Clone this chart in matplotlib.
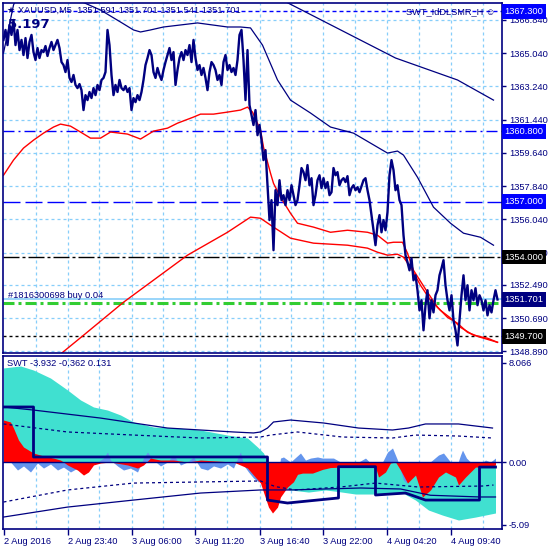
import matplotlib
matplotlib.use("Agg")
import matplotlib.pyplot as plt
import numpy as np
from matplotlib.transforms import blended_transform_factory

# ---------------- data ----------------
close = [
 1365.76, 1366.30, 1365.48, 1366.57, 1366.03, 1366.84, 1365.48, 1366.30, 1365.21, 1365.76,
 1364.94, 1365.86, 1364.78, 1365.65, 1366.03, 1365.10, 1364.67, 1365.32, 1364.78, 1365.21,
 1365.10, 1365.43, 1364.89, 1365.32, 1365.65, 1365.21, 1365.48, 1365.76, 1365.32, 1364.56,
 1364.40, 1364.02, 1364.67, 1363.70, 1363.48, 1363.86, 1363.32, 1363.15, 1363.37, 1363.04,
 1361.96, 1362.77, 1362.50, 1362.94, 1362.61, 1363.15, 1362.77, 1363.32, 1363.04, 1363.59,
 1363.70, 1364.02, 1366.30, 1365.48, 1363.86, 1362.77, 1363.32, 1362.94, 1363.59, 1363.15,
 1363.04, 1363.26, 1362.94, 1363.15, 1361.96, 1362.61, 1362.39, 1362.77, 1362.50, 1362.94,
 1363.59, 1364.40, 1364.78, 1365.21, 1364.94, 1364.02, 1363.70, 1364.24, 1363.86, 1363.59,
 1364.13, 1364.56, 1364.94, 1365.32, 1364.67, 1365.10, 1363.32, 1364.13, 1364.78, 1365.10,
 1364.67, 1365.21, 1364.94, 1365.48, 1364.56, 1365.76, 1364.78, 1364.13, 1364.40, 1363.86,
 1364.24, 1363.70, 1363.04, 1364.02, 1364.56, 1364.40, 1364.13, 1363.59, 1363.86, 1363.32,
 1364.56, 1364.94, 1364.13, 1364.40, 1364.02, 1364.24, 1363.86, 1364.67, 1366.03, 1366.30,
 1364.67, 1362.50, 1365.21, 1362.23, 1361.69, 1361.15, 1361.96, 1360.60, 1361.15, 1360.33,
 1359.25, 1359.79, 1357.89, 1356.00, 1357.08, 1354.37, 1357.62, 1356.81, 1358.16, 1357.08,
 1357.35, 1356.81, 1357.62, 1357.08, 1357.89, 1357.35, 1356.81, 1357.08, 1357.89, 1358.82,
 1358.60, 1358.16, 1358.98, 1357.89, 1358.27, 1356.81, 1357.35, 1358.16, 1358.43, 1357.73,
 1358.27, 1357.73, 1358.06, 1357.35, 1357.51, 1358.82, 1358.43, 1358.60, 1357.89, 1358.16,
 1358.27, 1358.06, 1358.38, 1357.35, 1357.73, 1357.89, 1357.62, 1357.78, 1357.51, 1357.84,
 1358.16, 1358.27, 1357.62, 1357.08, 1356.27, 1355.45, 1354.64, 1355.72, 1356.27, 1355.34,
 1356.00, 1355.45, 1356.43, 1358.43, 1359.25, 1358.71, 1357.62, 1357.89, 1357.08, 1356.81,
 1355.18, 1354.10, 1353.72, 1353.28, 1353.93, 1352.74, 1353.01, 1352.20, 1351.11, 1351.66,
 1350.03, 1351.39, 1352.20, 1350.68, 1351.66, 1351.00, 1351.93, 1352.20, 1353.01, 1353.39,
 1353.83, 1352.47, 1351.66, 1351.11, 1351.93, 1350.57, 1350.03, 1349.21, 1350.57, 1351.93,
 1353.01, 1351.66, 1352.47, 1351.11, 1352.20, 1351.66, 1352.31, 1351.39, 1351.93, 1351.66,
 1351.11, 1351.66, 1350.84, 1351.39, 1351.00, 1351.66, 1352.20, 1351.70,
]
close_step = 2  # bars between stored closes

red_up_bar = [0, 10, 20, 30, 40, 50, 57, 67, 77, 87, 97, 107, 124, 137, 150, 164, 174, 190, 197, 210,
              224, 237, 244, 249, 257, 260, 267, 270, 277, 287, 294, 310, 327, 344, 364, 374, 384, 390,
              399, 404, 410, 424, 434, 444, 454, 464, 477, 494]
red_up = [1358.43, 1359.25, 1359.90, 1360.33, 1360.71, 1361.04, 1361.20, 1361.09, 1360.77, 1360.44,
          1360.44, 1360.77, 1360.66, 1360.39, 1360.82, 1360.98, 1361.25, 1361.58, 1361.74, 1361.74,
          1361.85, 1361.96, 1362.12, 1361.85, 1360.87, 1359.95, 1358.54, 1357.99, 1357.24, 1356.37,
          1355.83, 1355.62, 1355.34, 1355.45, 1355.34, 1355.18, 1354.75, 1354.80, 1354.80, 1354.20,
          1353.28, 1352.09, 1351.28, 1350.73, 1350.41, 1349.92, 1349.65, 1349.38]

red_lo_bar = [52, 59, 80, 120, 184, 224, 247, 257, 270, 287, 310, 344, 364, 374, 384, 394, 400, 407,
              417, 427, 437, 450, 457, 470, 484, 494]
red_lo = [1348.51, 1348.83, 1349.76, 1351.55, 1354.10, 1355.34, 1356.16, 1356.10, 1355.62, 1355.02,
          1354.75, 1354.64, 1354.48, 1354.26, 1354.10, 1354.15, 1353.99, 1353.45, 1352.47, 1351.66,
          1351.11, 1350.57, 1350.19, 1349.76, 1349.60, 1349.38]

band_mid_bar = [0, 10, 17, 47, 67, 74, 97, 117, 130, 137, 147, 160, 194, 224, 237, 247, 259, 274, 287,
                307, 327, 350, 367, 384, 394, 400, 414, 430, 447, 460, 477, 490]
band_mid = [1365.05, 1367.65, 1368.47, 1369.01, 1368.36, 1367.93, 1367.38, 1366.73, 1366.30, 1366.19,
            1366.30, 1366.46, 1366.68, 1366.46, 1366.46, 1366.41, 1365.48, 1363.59, 1362.50, 1361.80,
            1361.04, 1360.71, 1360.17, 1359.63, 1359.74, 1359.52, 1358.32, 1356.70, 1355.83, 1355.29,
            1355.07, 1354.64]

band_top_bar = [237, 282, 392, 454, 490]
band_top = [1369.07, 1367.83, 1364.78, 1363.59, 1362.50]

price_ticks = [1366.840, 1365.040, 1363.240, 1361.440, 1359.640, 1357.840, 1356.040,
               1354.240, 1352.490, 1350.690, 1348.890]

lvl_blue_dash = 1367.300
lvl_blue_dashdot = 1360.800
lvl_blue_long = 1357.000
lvl_black_dashdot = 1354.000
lvl_bid = 1351.701
lvl_order = 1351.51
lvl_black_dot = 1349.700

# --- SWT sub window ---
turq_bar = [0, 17, 30, 47, 64, 77, 90, 104, 117, 130, 150, 174, 197, 224, 244, 254, 260, 264, 267,
            277, 287, 305, 322, 335, 352, 372, 399, 412, 425, 439, 455, 472, 492]
turq = [7.64, 7.80, 7.47, 6.82, 5.85, 5.04, 4.47, 4.22, 3.82, 3.25, 2.84, 2.76, 2.60, 2.19, 1.95, 1.22,
        0.73, 0.0, -1.06, -2.11, -2.27, -2.44, -2.27, -2.40, -2.60, -2.60, -2.50, -3.09, -3.90, -4.31,
        -4.71, -4.47, -4.14]

red_bar = [0, 7, 10, 15, 20, 30, 40, 50, 57, 60, 64, 74, 80, 85, 90, 97, 107, 124, 134, 140, 147, 157,
           170, 184, 197, 230, 244, 250, 257, 260, 265, 269, 274, 277, 284, 290, 294, 299, 309, 319,
           327, 339, 372, 375, 382, 387, 392, 397, 404, 412, 419, 427, 435, 442, 452, 455, 462, 472,
           485, 492]
red = [3.41, 3.25, 2.76, 1.79, 1.22, 0.73, 0.49, 0.32, 0.16, 0.0, -0.24, -0.65, -1.06, -0.81, -0.24,
       -0.08, 0.0, -0.24, -0.49, -0.24, 0.32, 0.16, 0.16, 0.0, 0.16, 0.0, -0.49, -1.06, -1.71, -2.44,
       -3.66, -4.14, -3.66, -2.84, -2.03, -1.60, -1.00, -0.90, -0.90, -0.60,
       -0.45, -0.41, -0.41, -1.22, -0.81, -0.08, 0.0, -0.65, -1.71, -1.06, -2.84, -2.27, -1.22,
       -0.81, -1.22, -1.87, -1.22, -0.41, -0.41, -0.24]

blue_bar = [0, 7, 14, 20, 27, 34, 40, 47, 54, 60, 67, 74, 80, 87, 94, 100, 104, 107, 114, 120, 127,
            134, 140, 144, 150, 157, 164, 170, 177, 184, 190, 197, 204, 210, 217, 224, 230, 235, 237,
            240, 245, 250, 255, 260, 264, 267, 270, 274, 277, 280, 287, 297, 302, 307, 314, 319, 324,
            330, 337, 347, 355, 362, 369, 377, 384, 389, 394, 397, 400, 403, 407, 415, 422, 429, 435,
            440, 447, 452, 457, 459, 463, 467, 475, 482, 487, 492]
blue = [0.41, 0.0, -0.65, -0.32, -0.81, -0.08, -0.49, -0.16, -0.65, -0.41, -0.81, -0.49, -0.97, -0.24,
        0.0, 0.32, 0.81, 0.16, -0.32, -0.65, -0.49, -0.81, 0.32, 0.81, 0.16, -0.32, 0.0, 0.57, -0.24,
        0.0, 0.41, -0.49, -0.65, -0.32, -0.49, -0.16, -0.49, 0.49, 0.81, -0.24, -0.81, -1.30, -1.62,
        -1.22, -1.87, -2.68, -2.27, -1.46, 0.32, 0.41, 0.0, 0.73, 0.16, 0.32, 0.41, 0.32, 0.32, 0.32,
        0.0, 0.0, 0.0, 0.32, -0.24, -0.32, 0.81, 1.14, 0.16, -0.65, -1.46, -1.71, -1.06, -0.65, -0.32,
        0.16, 0.57, 0.73, 0.0, -0.65, 0.57, 0.97, 0.32, 0.0, -0.24, 0.16, 0.0, 0.32]

step_bar = [0, 30, 30, 264, 264, 284, 335, 335, 372, 372, 402, 422, 476, 476, 492]
step = [4.47, 4.47, 0.41, 0.41, -3.09, -3.33, -2.92, -0.38, -0.38, -2.68, -2.52, -3.09, -3.09, -0.41, -0.41]

up_solid_bar = [0, 30, 97, 164, 230, 250, 257, 264, 270, 287, 320, 355, 389, 405, 422, 455, 489]
up_solid = [4.47, 4.22, 3.57, 2.76, 2.44, 2.36, 2.44, 2.76, 3.25, 3.41, 3.17, 2.76, 2.60, 2.76, 3.09, 3.09, 2.76]

up_dash_bar = [0, 64, 130, 197, 257, 267, 294, 339, 389, 412, 455, 489]
up_dash = [3.09, 2.44, 2.19, 1.95, 2.03, 2.19, 2.44, 2.03, 1.95, 2.19, 2.11, 1.95]

lo_dash_bar = [0, 64, 130, 197, 257, 272, 292, 337, 372, 415, 479, 490]
lo_dash = [-3.25, -2.27, -1.71, -1.62, -1.54, -2.00, -2.27, -2.03, -1.71, -2.03, -1.95, -1.87]

lo_solid_bar = [0, 64, 130, 197, 257, 287, 357, 397, 427, 477, 492]
lo_solid = [-4.47, -3.66, -3.09, -2.52, -2.27, -2.27, -2.11, -2.19, -2.70, -2.84, -2.84]

swt_ticks = [8.066, 0.0, -5.09]
swt_tick_labels = ["8.066", "0.00", "-5.09"]

time_tick_bars = [0, 64, 128, 192, 256, 320, 384, 448]
time_labels = ["2 Aug 2016", "2 Aug 23:40", "3 Aug 06:00", "3 Aug 11:20",
               "3 Aug 16:40", "3 Aug 22:00", "4 Aug 04:20", "4 Aug 09:40"]

# ---------------- drawing ----------------
NAVY = "#000080"
GRID = "#87CEFA"
W = H = 550
PT = 72 / 100.0  # points per pixel
FS = 6.7
plt.rcParams["font.family"] = ["Liberation Sans", "DejaVu Sans"]

fig = plt.figure(figsize=(5.5, 5.5), dpi=100)
fig.patch.set_facecolor("white")


def rect(l, t, r, b):
    return [l / W, 1 - b / H, (r - l) / W, (b - t) / H]


def px(x, y):
    return x / W, 1 - y / H


ax = fig.add_axes(rect(3, 3, 502, 353))
sx = fig.add_axes(rect(3, 356, 502, 529))
XL = (-0.5, 498.5)

for a in (ax, sx):
    a.set_xlim(*XL)
    a.set_facecolor("white")
    for s in a.spines.values():
        s.set_color(NAVY)
        s.set_linewidth(1.2)
    a.yaxis.tick_right()
    a.tick_params(axis="y", colors=NAVY, length=3, width=1, labelsize=FS, pad=2,
                  labelcolor=NAVY)
    for gx in range(32, 497, 32):
        a.axvline(gx, color=GRID, lw=0.9, dashes=(3 * PT / 0.9, 3 * PT / 0.9), zorder=0.5)

# main price panel
ax.set_ylim(1348.80, 1367.76)
ax.set_yticks(price_ticks)
ax.set_yticklabels([f"{v:.3f}" for v in price_ticks])
ax.set_xticks([])
for p in price_ticks:
    ax.axhline(p, color=GRID, lw=0.9, dashes=(3 * PT / 0.9, 3 * PT / 0.9), zorder=0.5)


def dl(a, y, color, pat, lw=1.0, z=1):
    a.axhline(y, color=color, lw=lw, dashes=[d * PT / lw for d in pat], zorder=z)


dl(ax, lvl_blue_dash, "#0000FF", (4, 3))
dl(ax, lvl_blue_dashdot, "#0000FF", (11, 4, 2, 4))
dl(ax, lvl_blue_long, "#0000FF", (17, 5))
dl(ax, lvl_black_dashdot, "black", (16, 3, 3, 3))
dl(ax, lvl_black_dot, "black", (3, 3))
ax.axhline(lvl_bid, color=GRID, lw=1.2, zorder=1)
dl(ax, lvl_order, "#32CD32", (11, 4, 3, 4), lw=2.2, z=1.1)

ax.plot(band_top_bar, band_top, color=NAVY, lw=0.9, zorder=2)
ax.plot(band_mid_bar, band_mid, color=NAVY, lw=0.9, zorder=2)
ax.plot(red_up_bar, red_up, color="#FF0000", lw=1.0, zorder=2)
ax.plot(red_lo_bar, red_lo, color="#FF0000", lw=1.0, zorder=2)
bars = np.arange(len(close)) * close_step
ax.plot(bars, close, color=NAVY, lw=1.7, zorder=3)

# right-side price boxes
tr = blended_transform_factory(ax.transAxes, ax.transData)
for val, txt, fc in [(lvl_blue_dash, "1367.300", "#0000FF"),
                     (lvl_blue_dashdot, "1360.800", "#0000FF"),
                     (lvl_blue_long, "1357.000", "#0000FF"),
                     (lvl_black_dashdot, "1354.000", "black"),
                     (lvl_bid, "1351.701", NAVY),
                     (lvl_black_dot, "1349.700", "black")]:
    ax.text(1.005, val, txt, transform=tr, color="white", fontsize=FS, va="center", ha="left",
            clip_on=False, zorder=10,
            bbox=dict(boxstyle="square,pad=0.3", fc=fc, ec="none"))

# texts on main
fig.text(*px(6, 10), "★", color=NAVY, fontsize=6.5, va="center", ha="left",
         family=["DejaVu Sans"])
fig.text(*px(18, 10), "XAUUSD,M5  1351.591 1351.701 1351.541 1351.701", color=NAVY,
         fontsize=FS, va="center", ha="left")
fig.text(*px(495, 12), "SWT_IdDLSMR_H ☺", color=NAVY, fontsize=FS, va="center", ha="right",
         family=["Liberation Sans", "DejaVu Sans"])
fig.text(*px(8, 24), "5.197", color=NAVY, fontsize=9.5, fontweight="bold", va="center",
         ha="left", family=["DejaVu Sans"])
fig.text(*px(8, 296), "#1816300698 buy 0.04", color=NAVY, fontsize=FS, va="center", ha="left")

# sub window
sx.set_ylim(-5.44, 8.61)
sx.set_yticks(swt_ticks)
sx.set_yticklabels(swt_tick_labels)
sx.fill_between(turq_bar, 0, turq, color="#40E0D0", lw=0, zorder=1)
sx.fill_between(blue_bar, 0, blue, color="#6495ED", lw=0, zorder=2)
sx.fill_between(red_bar, 0, red, color="#FF0000", lw=0, zorder=3)
sx.axhline(0, color=NAVY, lw=1.0, zorder=4)
sx.plot(up_solid_bar, up_solid, color=NAVY, lw=0.9, zorder=4)
sx.plot(lo_solid_bar, lo_solid, color=NAVY, lw=0.9, zorder=4)
sx.plot(up_dash_bar, up_dash, color=NAVY, lw=0.9, dashes=(3 * PT / 0.9, 3 * PT / 0.9), zorder=4)
sx.plot(lo_dash_bar, lo_dash, color=NAVY, lw=0.9, dashes=(3 * PT / 0.9, 3 * PT / 0.9), zorder=4)
sx.plot(step_bar, step, color=NAVY, lw=2.0, zorder=5)
fig.text(*px(7, 364), "SWT -3.932 -0.362 0.131", color=NAVY, fontsize=FS, va="center", ha="left")

sx.set_xticks(time_tick_bars)
sx.set_xticklabels(time_labels)
sx.tick_params(axis="x", colors=NAVY, length=4, width=1, labelsize=FS, pad=2, labelcolor=NAVY)
for lab in sx.get_xticklabels():
    lab.set_horizontalalignment("left")

fig.savefig("out.png", dpi=100, facecolor="white")
